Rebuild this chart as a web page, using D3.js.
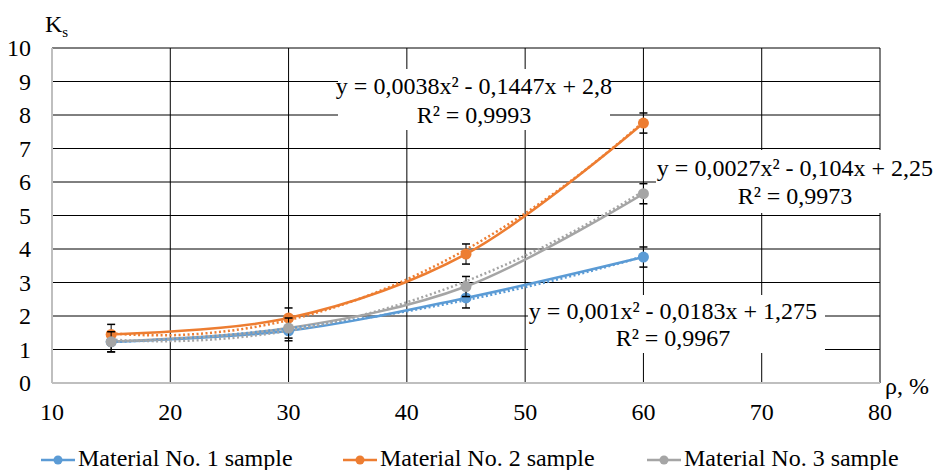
<!DOCTYPE html>
<html><head><meta charset="utf-8">
<script src="https://cdn.jsdelivr.net/npm/d3@7"></script>
<style>
html,body{margin:0;padding:0;background:#fff;}
svg text{font-family:"Liberation Serif",serif;}
</style></head>
<body><svg id="c" width="934" height="470"></svg>
<script>
const xValues = [15, 30, 45, 60];
const seriesNames = ["Material No. 1 sample", "Material No. 2 sample", "Material No. 3 sample"];
const seriesColors = ["#5B9BD5", "#ED7D31", "#A5A5A5"];
const material1 = [1.23, 1.56, 2.54, 3.76];
const material2 = [1.45, 1.94, 3.85, 7.76];
const material3 = [1.23, 1.64, 2.88, 5.65];
const errorValue = 0.3;
const trend1 = [0.001, -0.0183, 1.275];
const trend2 = [0.0038, -0.1447, 2.8];
const trend3 = [0.0027, -0.104, 2.25];
const eq1 = ["y = 0,001x² - 0,0183x + 1,275", "R² = 0,9967"];
const eq2 = ["y = 0,0038x² - 0,1447x + 2,8", "R² = 0,9993"];
const eq3 = ["y = 0,0027x² - 0,104x + 2,25", "R² = 0,9973"];
const xTicks = [10, 20, 30, 40, 50, 60, 70, 80];
const yTicks = [0, 1, 2, 3, 4, 5, 6, 7, 8, 9, 10];

const FF = "Liberation Serif";
const svg = d3.select("#c");
const x = d3.scaleLinear().domain([10, 80]).range([52, 880]);
const y = d3.scaleLinear().domain([0, 10]).range([383, 48]);
const FS = 24;
function txt(sel) { return sel.attr("font-family", FF).attr("fill", "#000"); }

// gridlines
svg.append("g").selectAll("line").data(yTicks.filter(d => d > 0)).join("line")
  .attr("x1", x(10)).attr("x2", x(80)).attr("y1", d => y(d)).attr("y2", d => y(d))
  .attr("stroke", "#000").attr("stroke-width", 1);
svg.append("g").selectAll("line").data(xTicks.filter(d => d > 10)).join("line")
  .attr("y1", y(0)).attr("y2", y(10)).attr("x1", d => x(d)).attr("x2", d => x(d))
  .attr("stroke", "#000").attr("stroke-width", 1);
// axis lines
svg.append("line").attr("x1", x(10)).attr("x2", x(10)).attr("y1", y(0)).attr("y2", y(10))
  .attr("stroke", "#BFBFBF").attr("stroke-width", 2);
svg.append("line").attr("x1", x(10)).attr("x2", x(80)).attr("y1", y(0)).attr("y2", y(0))
  .attr("stroke", "#BFBFBF").attr("stroke-width", 2);

// tick labels
txt(svg.append("g").selectAll("text").data(yTicks).join("text"))
  .attr("x", 31).attr("y", d => y(d)).attr("dy", "0.35em").attr("text-anchor", "end")
  .attr("font-size", FS).text(d => d);
txt(svg.append("g").selectAll("text").data(xTicks).join("text"))
  .attr("x", d => x(d)).attr("y", 420).attr("text-anchor", "middle")
  .attr("font-size", FS).text(d => d);

// axis titles
const kt = txt(svg.append("text")).attr("x", 45).attr("y", 32).attr("font-size", FS);
kt.append("tspan").text("K");
kt.append("tspan").attr("font-size", 15).attr("dy", 5).text("s");
txt(svg.append("text")).attr("x", 885).attr("y", 394).attr("font-size", FS).text("ρ, %");

const series = [material1, material2, material3];
const trends = [trend1, trend2, trend3];
const line = d3.line().x(d => x(d[0])).y(d => y(d[1])).curve(d3.curveCatmullRom.alpha(0.5));
const tline = d3.line().x(d => x(d[0])).y(d => y(d[1]));

const order = [0, 1, 2];
order.forEach(i => {
  const pts = xValues.map((xv, j) => [xv, series[i][j]]);
  svg.append("path").attr("d", line(pts)).attr("fill", "none")
    .attr("stroke", seriesColors[i]).attr("stroke-width", 2.5);
});
order.forEach(i => {
  const c = trends[i];
  const samp = d3.range(15, 60.001, 0.5).map(t => [t, c[0] * t * t + c[1] * t + c[2]]);
  svg.append("path").attr("d", tline(samp)).attr("fill", "none")
    .attr("stroke", seriesColors[i]).attr("stroke-width", 2.5).attr("stroke-dasharray", "2,2.5");
});
order.forEach(i => {
  const g = svg.append("g");
  xValues.forEach((xv, j) => {
    const v = series[i][j];
    g.append("line").attr("x1", x(xv)).attr("x2", x(xv)).attr("y1", y(v - errorValue)).attr("y2", y(v + errorValue))
      .attr("stroke", "#000").attr("stroke-width", 1);
    [v - errorValue, v + errorValue].forEach(e => {
      g.append("line").attr("x1", x(xv) - 4).attr("x2", x(xv) + 4).attr("y1", y(e)).attr("y2", y(e))
        .attr("stroke", "#000").attr("stroke-width", 1.5);
    });
  });
  g.selectAll("circle").data(xValues).join("circle")
    .attr("cx", d => x(d)).attr("cy", (d, j) => y(series[i][j])).attr("r", 5.5)
    .attr("fill", seriesColors[i]);
});

// equation labels
function label(lines, bx, by, bw, bh, cx, b1, b2) {
  svg.append("rect").attr("x", bx).attr("y", by).attr("width", bw).attr("height", bh).attr("fill", "#fff");
  txt(svg.append("text")).attr("x", cx).attr("y", b1).attr("text-anchor", "middle").attr("font-size", FS).text(lines[0]);
  txt(svg.append("text")).attr("x", cx).attr("y", b2).attr("text-anchor", "middle").attr("font-size", FS).text(lines[1]);
}
label(eq2, 338, 69, 272, 61, 474, 94, 123);
label(eq3, 656, 150, 280, 63, 795, 176, 204);
label(eq1, 528, 295, 297, 58, 673, 319, 346);

// legend
const legX = [41, 343, 647];
order.forEach(i => {
  const lx = legX[i];
  svg.append("line").attr("x1", lx).attr("x2", lx + 34).attr("y1", 460).attr("y2", 460)
    .attr("stroke", seriesColors[i]).attr("stroke-width", 2.5);
  svg.append("circle").attr("cx", lx + 17).attr("cy", 460).attr("r", 4.5).attr("fill", seriesColors[i]);
  txt(svg.append("text")).attr("x", lx + 37).attr("y", 466).attr("font-size", FS).text(seriesNames[i]);
});
</script></body></html>
